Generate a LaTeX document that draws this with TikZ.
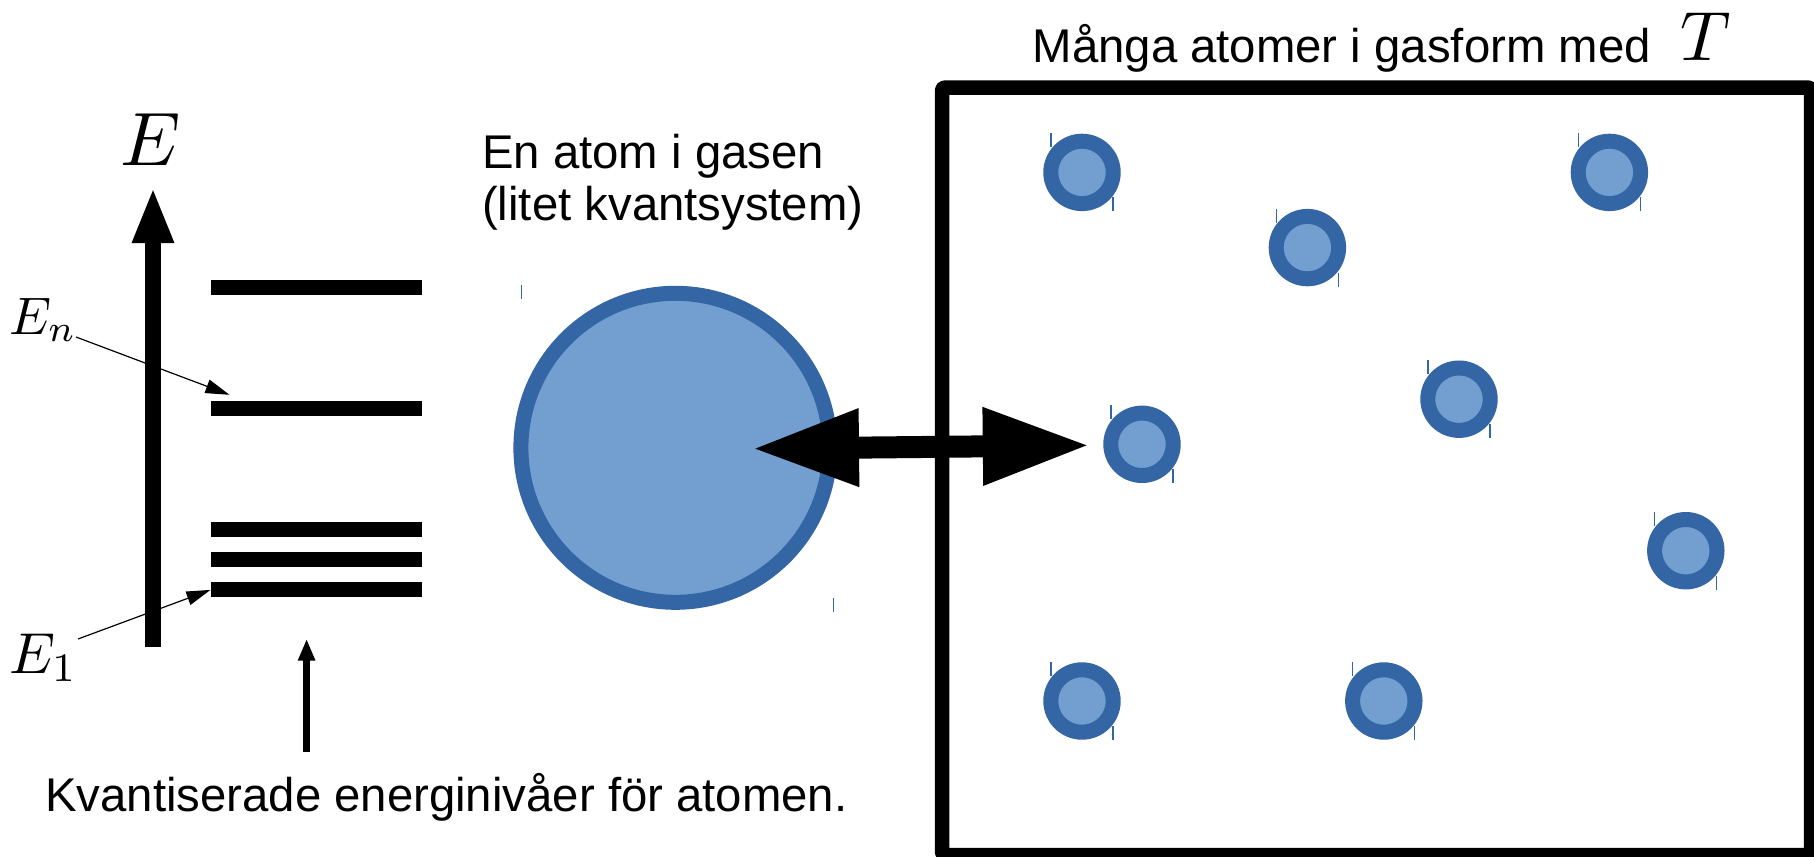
\documentclass[tikz,border=0pt]{standalone}
\usepackage{graphicx}
\usepackage{fontspec}
\setmainfont{Liberation Sans}
\usetikzlibrary{arrows.meta,calc}
\definecolor{atomfill}{HTML}{729FCF}
\definecolor{atomline}{HTML}{3465A4}
\newcommand{\bigmath}[2]{\scalebox{#1}{$#2$}}
\begin{document}
\begin{tikzpicture}[x=1bp,y=-1bp,
  txt/.style={font=\fontsize{47.5}{55}\selectfont, inner sep=0, anchor=base west},
  mathlabel/.style={font=\fontsize{10}{12}\selectfont, inner sep=0, anchor=base west},
  level/.style={fill=black, draw=none, minimum width=211.3bp, minimum height=15bp, inner sep=0},
  atom/.style={circle, draw=atomline, fill=atomfill, line width=15bp, inner sep=0, minimum size=62.4bp},
  bigatom/.style={atom, minimum size=309bp},
  tickmark/.style={draw=atomline, line width=1.2bp},
  axisarrow/.style={line width=15.3bp, -{Triangle[length=56bp,width=38bp]}},
  pointer/.style={line width=1.2bp, -{Triangle[length=24bp,width=14bp]}},
  uparrow/.style={line width=7bp, -{Triangle[length=22bp,width=16bp]}},
  exchange/.style={line width=22bp, {Triangle[length=107.5bp,width=72bp]}-{Triangle[length=107.5bp,width=72bp]}},
]
\useasboundingbox (0,0) rectangle (1814,857);
\fill[white] (0,0) rectangle (1814,857);

% energy axis
\coordinate (ebot) at (153,647);
\coordinate (etop) at (153,187);
\draw[axisarrow] (ebot) -- (etop);
\node[mathlabel] (elabel) at (120,165) {\bigmath{7.6}{E}};

% energy levels
\node[level] (l5) at (316.35,287.5) {};
\node[level] (l4) at (316.35,408.5) {};
\node[level] (l3) at (316.35,529.4) {};
\node[level] (l2) at (316.35,559.6) {};
\node[level] (l1) at (316.35,589.9) {};

% level labels
\node[mathlabel] (en) at (9,334) {\bigmath{5.3}{E_n}};
\node[mathlabel] (e1) at (9,673) {\bigmath{5.8}{E_1}};
\coordinate (entail) at (76,337);
\coordinate (e1tail) at (78,639);
\draw[pointer] (entail) -- ($(l4.north west)+(19,-6)$);
\draw[pointer] (e1tail) -- (l1.west);

% caption
\node[txt] (caption) at (45,811) {Kvantiserade energinivåer för atomen.};
\coordinate (captail) at (306.6,752);
\coordinate (caphead) at (306.6,638.7);
\draw[uparrow] (captail) -- (caphead);

% single atom
\node[txt] (single1) at (482,168) {En atom i gasen};
\node[txt] (single2) at (482,220) {(litet kvantsystem)};
\node[bigatom] (big) at (675.4,447.8) {};
\draw[tickmark] ($(big.center)+(-154,-163)$) -- ++(0,14);
\draw[tickmark] ($(big.center)+(158,150)$) -- ++(0,14);

% gas container
\draw[line width=14.5bp, line join=round, rounded corners=3bp] (942,87.5) rectangle (1811,855);
\node[txt] (title) at (1032.5,62) {Många atomer i gasform med};
\node[mathlabel] (temp) at (1680,60) {\bigmath{7}{T}};

% gas atoms
\foreach \n/\px/\py in {a1/1082/172.4, a2/1609.4/172.4, a3/1307.4/247.6, a4/1459/399.2,
                        a5/1142/444.3, a6/1685.8/550.7, a7/1082/701, a8/1383.8/701}{
  \node[atom] (\n) at (\px,\py) {};
  \draw[tickmark] ($(\n.center)+(-31,-39)$) -- ++(0,14);
  \draw[tickmark] ($(\n.center)+(31,25)$) -- ++(0,14);
}

% exchange between one atom and the gas
\coordinate (xleft) at (751.5,448.7);
\coordinate (xright) at (1090.3,445.3);
\draw[exchange] (xleft) -- (xright);
\end{tikzpicture}
\end{document}
